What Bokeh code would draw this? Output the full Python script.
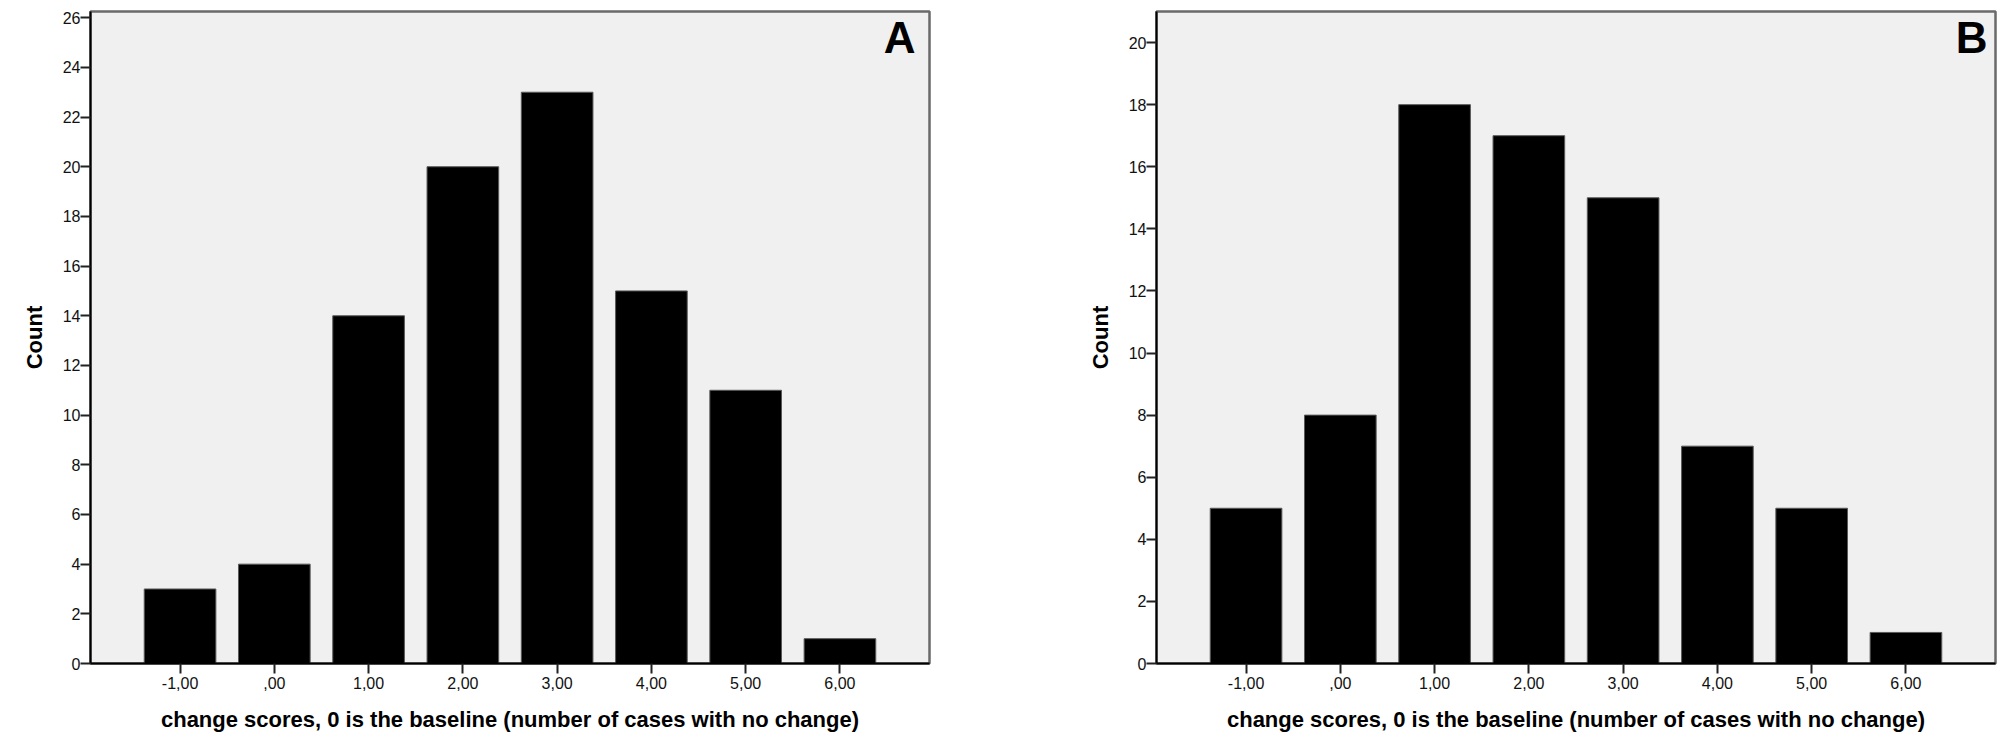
from bokeh.plotting import figure
from bokeh.layouts import row
from bokeh.models import Range1d, FixedTicker, Label
from bokeh.embed import file_html
from bokeh.resources import INLINE

# ---- data ----
categories = [-1, 0, 1, 2, 3, 4, 5, 6]
tick_labels = ["-1,00", ",00", "1,00", "2,00", "3,00", "4,00", "5,00", "6,00"]
counts_a = [3, 4, 14, 20, 23, 15, 11, 1]
counts_b = [5, 8, 18, 17, 15, 7, 5, 1]
yticks_a = list(range(0, 27, 2))
yticks_b = list(range(0, 21, 2))
xlabel = "change scores, 0 is the baseline (number of cases with no change)"
ylabel = "Count"

FONT = "Liberation Sans"


def make_panel(counts, yticks, ymax, letter, width, border_left, border_right, letter_dx):
    p = figure(width=width, height=750, output_backend="svg", toolbar_location=None,
               x_range=Range1d(-1.95, 6.95), y_range=Range1d(0, ymax),
               min_border_left=border_left, min_border_right=border_right,
               min_border_top=11, min_border_bottom=87)
    p.border_fill_color = "white"
    p.background_fill_color = "#f0f0f0"
    p.outline_line_color = "#6a6a6a"
    p.outline_line_width = 2.5
    p.grid.visible = False

    p.vbar(x=categories, top=counts, width=0.76, bottom=0,
           fill_color="black", line_color="#5a5a5a", line_width=1)

    p.xaxis.ticker = FixedTicker(ticks=categories)
    p.xaxis.major_label_overrides = {c: t for c, t in zip(categories, tick_labels)}
    p.yaxis.ticker = FixedTicker(ticks=yticks)

    for ax in (p.xaxis[0], p.yaxis[0]):
        ax.axis_line_color = "black"
        ax.axis_line_width = 2
        ax.major_tick_line_color = "#222222"
        ax.major_tick_line_width = 2
        ax.major_tick_in = 0
        ax.major_tick_out = 10
        ax.minor_tick_line_color = None
        ax.major_label_text_font = FONT
        ax.major_label_text_font_size = "16px"
        ax.major_label_text_color = "#111111"
        ax.axis_label_text_font = FONT
        ax.axis_label_text_font_style = "bold"
        ax.axis_label_text_font_size = "22px"
        ax.axis_label_text_color = "black"

    p.xaxis.axis_label = xlabel
    p.xaxis.major_label_standoff = 3
    p.xaxis.axis_label_standoff = 15
    p.yaxis.axis_label = ylabel
    p.yaxis.major_label_standoff = 0
    p.yaxis.axis_label_standoff = 13

    lab = Label(x=6.95, y=ymax, text=letter, text_align="right", text_baseline="top",
                x_offset=letter_dx, y_offset=-1, text_font=FONT, text_font_style="bold",
                text_font_size="44px", text_color="black")
    p.add_layout(lab)
    return p


pa = make_panel(counts_a, yticks_a, 26.25, "A", 1000, 90, 71, -14)
pb = make_panel(counts_b, yticks_b, 21.0, "B", 1008, 156, 13, -8)

layout = row(pa, pb)
open("out.html", "w").write(file_html(layout, INLINE))
